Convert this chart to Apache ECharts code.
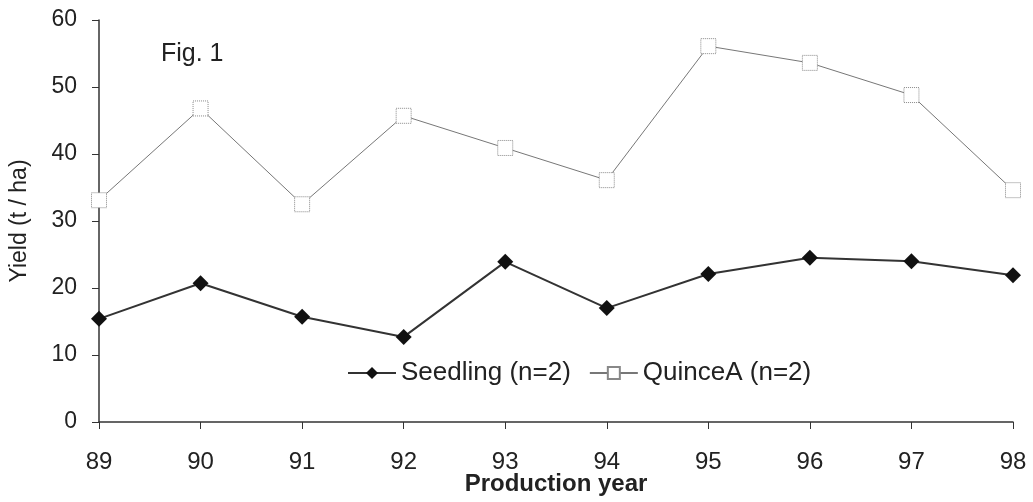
<!DOCTYPE html>
<html>
<head>
<meta charset="utf-8">
<script src="https://cdn.jsdelivr.net/npm/echarts@6/dist/echarts.min.js"></script>
<style>
  html, body { margin: 0; padding: 0; background: #fff; }
  #chart { width: 1033px; height: 502px; }
</style>
</head>
<body>
<div id="chart"></div>
<script>
// production years (x axis)
var years = ['89', '90', '91', '92', '93', '94', '95', '96', '97', '98']
// yield in t/ha
var seedling = [15.4, 20.7, 15.7, 12.7, 23.9, 17.0, 22.1, 24.5, 24.0, 21.9]
var quinceA = [33.1, 46.8, 32.5, 45.7, 40.9, 36.1, 56.1, 53.6, 48.8, 34.6]

var font = 'Liberation Sans, Arial, sans-serif'
var chart = echarts.init(document.getElementById('chart'))

chart.setOption({
  backgroundColor: '#fff',
  animation: false,
  textStyle: { fontFamily: font },
  // fixed plot area, labels may overhang
  grid: { left: 99, right: 20, top: 20, bottom: 80, outerBoundsMode: 'none' },
  graphic: [{
    type: 'text',
    left: 161,
    top: 42,
    style: { text: 'Fig. 1', font: '25px ' + font, fill: '#222' }
  }],
  legend: {
    left: 342,
    top: 355,
    itemWidth: 48,
    itemHeight: 15,
    itemGap: 18,
    textStyle: { fontSize: 26, color: '#222', fontFamily: font },
    data: ['Seedling (n=2)', 'QuinceA (n=2)']
  },
  xAxis: {
    type: 'category',
    data: years,
    boundaryGap: false,
    name: 'Production year',
    nameLocation: 'middle',
    nameGap: 50,
    nameMoveOverlap: false,
    nameTextStyle: { fontSize: 24, color: '#222', fontWeight: 'bold', fontFamily: font },
    axisLine: { lineStyle: { color: '#333', width: 1.5 } },
    axisTick: { length: 7, lineStyle: { color: '#333' } },
    axisLabel: { fontSize: 24, color: '#222', margin: 28, fontFamily: font }
  },
  yAxis: {
    type: 'value',
    min: 0,
    max: 60,
    interval: 10,
    name: 'Yield (t / ha)',
    nameLocation: 'middle',
    nameGap: 68,
    nameMoveOverlap: false,
    nameTextStyle: { fontSize: 23, color: '#222', fontFamily: font },
    axisLine: { show: true, lineStyle: { color: '#333', width: 1.5 } },
    axisTick: { show: true, length: 7, lineStyle: { color: '#333' } },
    axisLabel: { fontSize: 23, color: '#222', margin: 22, fontFamily: font },
    splitLine: { show: false }
  },
  series: [
    {
      name: 'Seedling (n=2)',
      type: 'line',
      data: seedling,
      symbol: 'diamond',
      symbolSize: 16,
      itemStyle: { color: '#111' },
      lineStyle: { color: '#333', width: 2 }
    },
    {
      name: 'QuinceA (n=2)',
      type: 'line',
      data: quinceA,
      symbol: 'rect',
      symbolSize: 15,
      itemStyle: { color: '#fff', borderColor: '#888', borderWidth: 1, borderType: 'dotted' },
      lineStyle: { color: '#777', width: 1 }
    }
  ]
})
</script>
</body>
</html>
